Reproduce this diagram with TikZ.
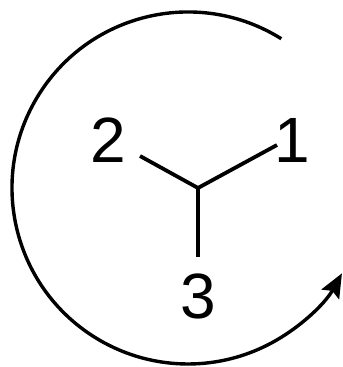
\documentclass[tikz,border=0pt]{standalone}
\usepackage{fontspec}
\setmainfont{Liberation Sans}
\usetikzlibrary{arrows.meta,positioning,calc}
\tikzset{
  % Atom label
  lbl/.style={inner sep=0pt,font=\fontsize{32}{38}\selectfont},
  % Bond line
  bond/.style={line width=1.9pt,line cap=butt},
  % Rotation arc
  rot/.style={line width=1.7pt,-{Stealth[length=12pt,width=10pt,inset=2pt]}},
}
\begin{document}
\begin{tikzpicture}[x=0.5pt,y=0.5pt]
  \useasboundingbox (0,0) rectangle (342,367);

  \coordinate (c) at (198,179);
  \coordinate (b1) at (277,222);
  \coordinate (b2) at (140,211);
  \coordinate (b3) at (198,110);

  \node[lbl] (l1) at (292,227) {1};
  \node[lbl] (l2) at (108,227) {2};
  \node[lbl] (l3) at (198,71) {3};

  \draw[bond] (c) -- (b1);
  \draw[bond] (c) -- (b2);
  \draw[bond] (c) -- (b3);

  % arc round the molecule
  \coordinate (o) at (188,179);
  \draw[rot] ($(o)+(58:176)$) arc[start angle=58,end angle=331,radius=176];
\end{tikzpicture}
\end{document}
